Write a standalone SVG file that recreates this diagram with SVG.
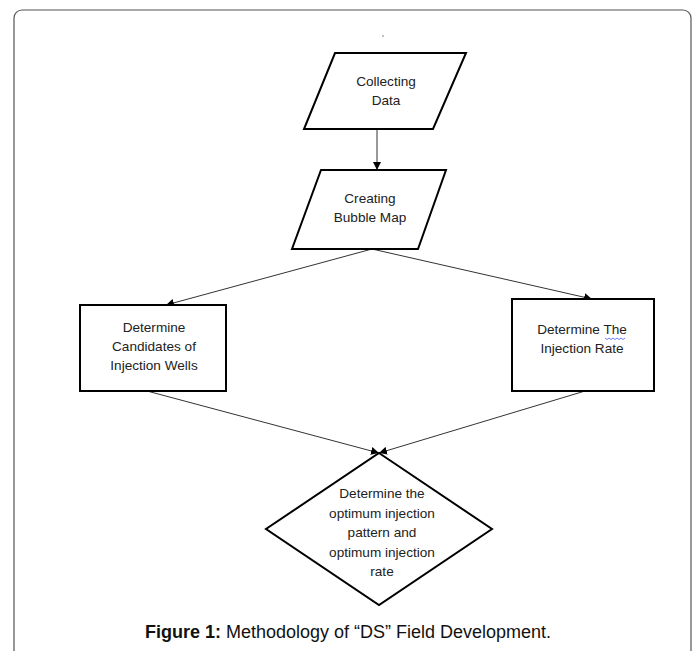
<svg xmlns="http://www.w3.org/2000/svg" width="696" height="651" viewBox="0 0 696 651">
<style>
.shape{fill:#fff;stroke:#000;stroke-width:2}
.t{font-family:"Liberation Sans",Arial,sans-serif;font-size:13.6px;fill:#222;text-anchor:middle}
.c{stroke:#333;stroke-width:1;fill:none}
.cap{font-family:"Liberation Sans",Arial,sans-serif;font-size:18px;fill:#111;text-anchor:middle}
</style>
<defs>
<marker id="ah" viewBox="0 0 10 10" refX="10" refY="5" markerWidth="8" markerHeight="8" markerUnits="userSpaceOnUse" orient="auto">
<path d="M0,0 L10,5 L0,10 z" fill="#000"/>
</marker>
</defs>
<rect x="14" y="10" width="677" height="700" rx="8" fill="#fff" stroke="#555" stroke-width="1.2"/>
<circle cx="383" cy="36" r="0.7" fill="#555"/>
<g id="connectors">
<line class="c" x1="377" y1="129" x2="377" y2="170" marker-end="url(#ah)"/>
<line class="c" x1="372" y1="249" x2="166" y2="305" marker-end="url(#ah)"/>
<line class="c" x1="372" y1="249" x2="592" y2="299" marker-end="url(#ah)"/>
<line class="c" x1="147" y1="391" x2="379" y2="453" marker-end="url(#ah)"/>
<line class="c" x1="585" y1="391" x2="379" y2="453" marker-end="url(#ah)"/>
</g>
<g id="collecting">
<polygon class="shape" points="335,53 466,53 433,129 304,129"/>
<text class="t" x="386" y="86">Collecting</text>
<text class="t" x="386" y="105">Data</text>
</g>
<g id="bubble">
<polygon class="shape" points="321,170 446,170 418,249 292,249"/>
<text class="t" x="370" y="203">Creating</text>
<text class="t" x="370" y="222">Bubble Map</text>
</g>
<g id="candidates">
<rect class="shape" x="80" y="305" width="146" height="86"/>
<text class="t" x="154" y="332">Determine</text>
<text class="t" x="154" y="351">Candidates of</text>
<text class="t" x="154" y="370">Injection Wells</text>
</g>
<g id="rate">
<rect class="shape" x="512" y="299" width="142" height="92"/>
<text class="t" x="582" y="334">Determine The</text>
<text class="t" x="582" y="353">Injection Rate</text>
<path d="M605,338 l2,1.5 l2,-1.5 l2,1.5 l2,-1.5 l2,1.5 l2,-1.5 l2,1.5 l2,-1.5 l2,1.5 l2,-1.5" fill="none" stroke="#4060ff" stroke-width="0.8"/>
</g>
<g id="optimum">
<polygon class="shape" points="379,453 492,529 379,605 266,529"/>
<text class="t" x="382" y="498">Determine the</text>
<text class="t" x="382" y="518">optimum injection</text>
<text class="t" x="382" y="537">pattern and</text>
<text class="t" x="382" y="557">optimum injection</text>
<text class="t" x="382" y="576">rate</text>
</g>
<text class="cap" x="348" y="638"><tspan font-weight="bold">Figure 1:</tspan> Methodology of “DS” Field Development.</text>
</svg>
